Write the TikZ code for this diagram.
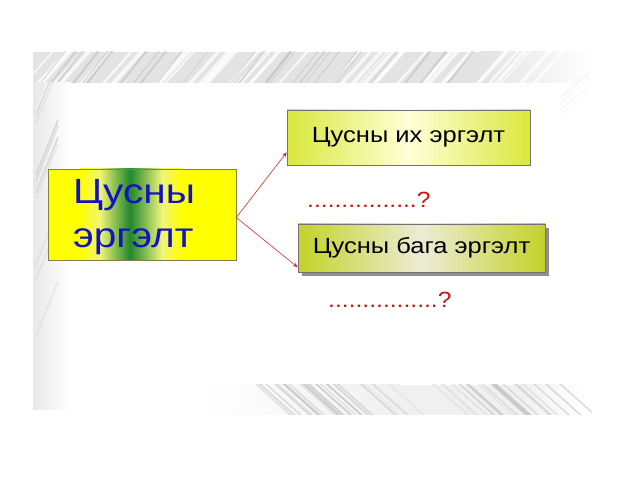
\documentclass[tikz,border=0pt]{standalone}
\usepackage{fontspec}
\setmainfont{Liberation Sans}
\usetikzlibrary{calc,arrows.meta,shadows}
\definecolor{bandgreen}{RGB}{35,135,45}
\definecolor{lyellow}{RGB}{255,255,0}
\definecolor{paleyel}{RGB}{240,245,120}
\definecolor{txtblue}{RGB}{20,20,190}
\definecolor{oliveA}{RGB}{218,232,60}
\definecolor{paleA}{RGB}{255,255,215}
\definecolor{oliveB}{RGB}{196,210,40}
\definecolor{paleB}{RGB}{236,236,214}
\definecolor{arrred}{RGB}{215,45,45}
\definecolor{dotred}{RGB}{200,20,20}
\tikzset{
  leftbox/.style={draw=black!55!yellow, line width=0.6pt, minimum width=188pt, minimum height=91pt, inner sep=0pt},
  bigtxt/.style={font=\fontsize{35}{44}\selectfont, text=txtblue, inner sep=0pt},
  rbox/.style={draw=black!55, line width=0.6pt, inner sep=0pt, font=\fontsize{22}{26}\selectfont, text=black},
  dotline/.style={font=\fontsize{22}{26}\selectfont, text=dotred, inner sep=0pt},
  conn/.style={draw=arrred, line width=0.6pt, -{Stealth[length=5pt,width=4pt]}},
  streak/.style={line cap=round}
}
\begin{document}
\begin{tikzpicture}[x=1pt,y=-1pt]
\useasboundingbox (0,0) rectangle (638,478);
\fill[white] (0,0) rectangle (638,478);
% top feather band
\begin{scope}
  \clip (33,52) rectangle (592,83);
  \fill[gray!22] (33,52) rectangle (480,83);
  \shade[left color=gray!22, right color=white] (480,52) rectangle (592,83);
  \pgfmathsetseed{7}
  \foreach \i in {1,...,45}{
    \pgfmathsetmacro\xa{20+520*rnd}
    \pgfmathsetmacro\ww{1+3*rnd}
    \draw[streak, white, opacity=0.75, line width=\ww pt] (\xa,86) -- ++(34,-38);
  }
  \foreach \i in {1,...,30}{
    \pgfmathsetmacro\xa{20+480*rnd}
    \pgfmathsetmacro\ww{0.5+1.5*rnd}
    \draw[streak, gray!55, opacity=0.5, line width=\ww pt] (\xa,86) -- ++(30,-38);
  }
\end{scope}
% left feathers
\begin{scope}
  \clip (33,83) rectangle (75,410);
  \shade[left color=gray!18, right color=white] (33,83) rectangle (70,410);
  \foreach \i in {1,...,14}{
    \pgfmathsetmacro\ya{95+260*rnd}
    \pgfmathsetmacro\ww{0.4+1.2*rnd}
    \draw[streak, gray!35, opacity=0.6, line width=\ww pt] (36,\ya) -- ++(22,-55);
  }
\end{scope}
% bottom feather band
\begin{scope}
  \clip (33,385) rectangle (592,415);
  \shade[left color=white, right color=gray!12] (200,385) rectangle (400,415);
  \fill[gray!12] (400,385) rectangle (520,415);
  \shade[left color=gray!12, right color=white] (520,385) rectangle (585,415);
  \foreach \i in {1,...,35}{
    \pgfmathsetmacro\xa{240+330*rnd}
    \pgfmathsetmacro\ww{0.5+2.2*rnd}
    \pgfmathsetmacro\gg{20+35*rnd}
    \draw[streak, gray!\gg, opacity=0.7, line width=\ww pt] (\xa,383) -- ++(38,34);
  }
\end{scope}
% faint right streaks
\foreach \i in {1,...,5}{
  \pgfmathsetmacro\ya{88+30*rnd}
  \draw[streak, gray!8, line width=0.6pt] (560,\ya) -- ++(30,-25);
}
% left box with green vertical band
\fill[lyellow] (48,169) rectangle (236,260);
\shade[left color=lyellow, right color=paleyel] (80,169) rectangle (100,260);
\shade[left color=paleyel, right color=bandgreen] (100,169) rectangle (130,260);
\shade[left color=bandgreen, right color=paleyel] (130,169) rectangle (162,260);
\shade[left color=paleyel, right color=lyellow] (162,169) rectangle (182,260);
\node[leftbox] (L) at (142,214.5) {};
\node[bigtxt, anchor=base west] (L1) at (73,204) {\scalebox{1.16}[1]{Цусны}};
\node[bigtxt, anchor=base west] (L2) at (73,248) {\scalebox{1.16}[1]{эргэлт}};
% right boxes
\node[rbox, minimum width=243pt, minimum height=55pt, left color=oliveA, right color=oliveA, middle color=paleA] (T) at (408.5,137.5) {\scalebox{1.16}[1]{Цусны их эргэлт}};
\node[rbox, minimum width=247pt, minimum height=48pt, left color=oliveB, right color=oliveB, middle color=paleB,
      drop shadow={shadow xshift=4pt, shadow yshift=-4pt, fill=black!55, opacity=0.8}] (B) at (421.5,248) {\scalebox{1.16}[1]{Цусны бага эргэлт}};
% dotted question lines
\node[dotline, anchor=base west] (D1) at (307,208) {\scalebox{1.12}[1]{................?}};
\node[dotline, anchor=base west] (D2) at (328,308) {\scalebox{1.12}[1]{................?}};
% connectors
\draw[conn] ([yshift=-3pt]L.east) -- ([yshift=13pt]T.south west);
\draw[conn] ([yshift=-3pt]L.east) -- ([yshift=5pt]B.south west);
\end{tikzpicture}
\end{document}
